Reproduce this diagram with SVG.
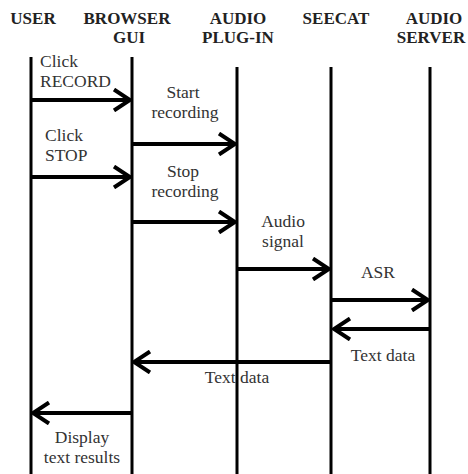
<svg xmlns="http://www.w3.org/2000/svg" width="468" height="474" viewBox="0 0 468 474">
<style>
.hdr{font-family:"Liberation Serif","Times New Roman",serif;font-weight:bold;font-size:17px;fill:#222;text-anchor:middle}
.lbl{font-family:"Liberation Serif","Times New Roman",serif;font-size:17.5px;fill:#333}
.mid{text-anchor:middle}
.life{stroke:#000;stroke-width:3;fill:none}
.msg{stroke:#000;stroke-width:4;fill:none}
</style>
<defs>
<marker id="ah" viewBox="0 0 20 24" refX="18" refY="12" markerWidth="20" markerHeight="24" markerUnits="userSpaceOnUse" orient="auto">
<path d="M2,1.5 L18,12 L2,22.5" stroke="#000" stroke-width="4" fill="none"/>
</marker>
</defs>
<rect width="468" height="474" fill="#fff"/>
<g id="user"><text class="hdr" x="33" y="24">USER</text><line class="life" x1="31" y1="57" x2="31" y2="474"/></g>
<g id="browser"><text class="hdr" x="127" y="24">BROWSER</text><text class="hdr" x="129" y="43">GUI</text><line class="life" x1="132" y1="57" x2="132" y2="474"/></g>
<g id="plugin"><text class="hdr" x="238" y="24">AUDIO</text><text class="hdr" x="238" y="43">PLUG-IN</text><line class="life" x1="237" y1="67" x2="237" y2="474"/></g>
<g id="seecat"><text class="hdr" x="336" y="24">SEECAT</text><line class="life" x1="331" y1="67" x2="331" y2="474"/></g>
<g id="server"><text class="hdr" x="434" y="24">AUDIO</text><text class="hdr" x="431" y="43">SERVER</text><line class="life" x1="430" y1="67" x2="430" y2="474"/></g>
<g id="connectors">
<line class="msg" x1="31" y1="100" x2="130" y2="100" marker-end="url(#ah)"/>
<line class="msg" x1="132" y1="144" x2="235" y2="144" marker-end="url(#ah)"/>
<line class="msg" x1="31" y1="177" x2="130" y2="177" marker-end="url(#ah)"/>
<line class="msg" x1="132" y1="222" x2="235" y2="222" marker-end="url(#ah)"/>
<line class="msg" x1="237" y1="269" x2="329" y2="269" marker-end="url(#ah)"/>
<line class="msg" x1="331" y1="300" x2="428" y2="300" marker-end="url(#ah)"/>
<line class="msg" x1="430" y1="329" x2="334" y2="329" marker-end="url(#ah)"/>
<line class="msg" x1="331" y1="362" x2="134" y2="362" marker-end="url(#ah)"/>
<line class="msg" x1="132" y1="413" x2="33" y2="413" marker-end="url(#ah)"/>
</g>
<g id="labels">
<text class="lbl" x="40" y="67">Click</text>
<text class="lbl" x="40" y="86.5">RECORD</text>
<text class="lbl mid" x="183" y="98">Start</text>
<text class="lbl mid" x="185" y="117.5">recording</text>
<text class="lbl" x="45" y="141">Click</text>
<text class="lbl" x="45" y="160.5">STOP</text>
<text class="lbl mid" x="183" y="177">Stop</text>
<text class="lbl mid" x="185" y="196.5">recording</text>
<text class="lbl mid" x="283" y="227">Audio</text>
<text class="lbl mid" x="283" y="246.5">signal</text>
<text class="lbl mid" x="378" y="278">ASR</text>
<text class="lbl mid" x="383" y="361">Text data</text>
<text class="lbl mid" x="237" y="383">Text data</text>
<text class="lbl mid" x="82" y="443">Display</text>
<text class="lbl mid" x="82" y="462.5">text results</text>
</g>
</svg>
